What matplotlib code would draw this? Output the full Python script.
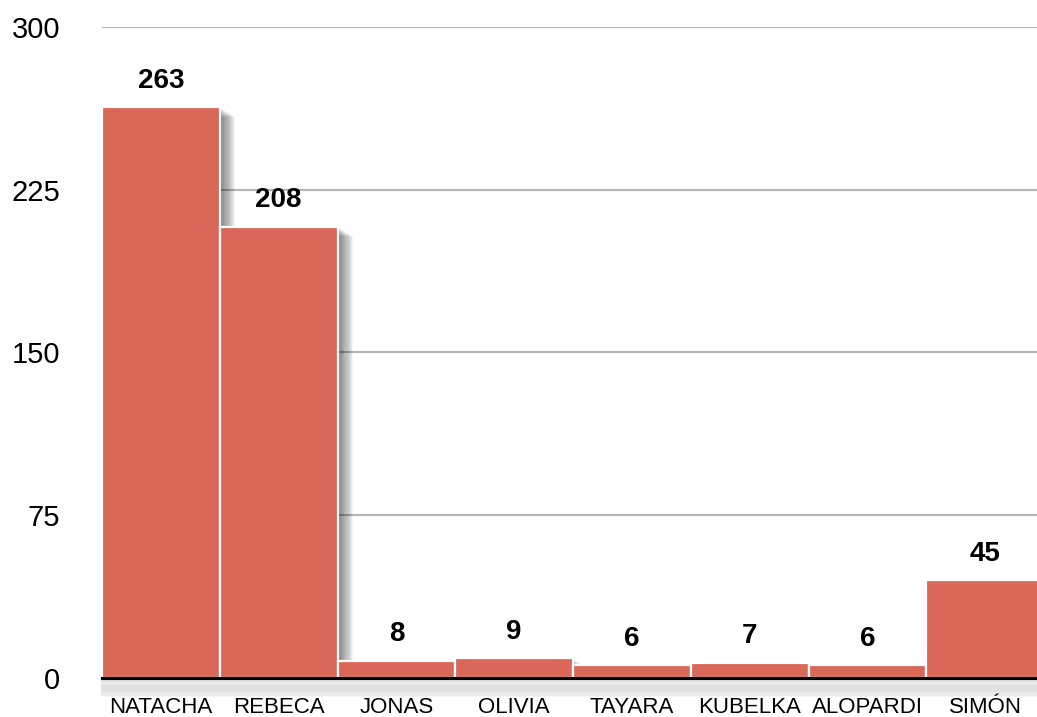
import matplotlib
matplotlib.use('Agg')
import matplotlib.pyplot as plt
import matplotlib.patheffects as pe

names = ['NATACHA', 'REBECA', 'JONAS', 'OLIVIA', 'TAYARA', 'KUBELKA', 'ALOPARDI', 'SIMÓN']
votes = [263, 208, 8, 9, 6, 7, 6, 45]
yticks = [0, 75, 150, 225, 300]

plt.rcParams['font.family'] = ['Liberation Sans', 'DejaVu Sans']

fig = plt.figure(figsize=(10.37, 7.17), dpi=100)
ax = fig.add_axes([0.0984, 0.0544, 0.9084, 0.908])

# soft drop shadow: stacked translucent offsets
shadow = [pe.SimplePatchShadow(offset=(d * 0.8, -d * 0.5), shadow_rgbFace='black', alpha=0.045)
          for d in range(1, 15)] + [pe.Normal()]

x = list(range(len(names)))
bars = ax.bar(x, votes, width=1.0, color='#D96859', edgecolor='white', linewidth=1.6, zorder=3)
for b in bars:
    b.set_path_effects(shadow)

for xi, v in zip(x, votes):
    ax.annotate(str(v), (xi, v), xytext=(0, 19), textcoords='offset points',
                ha='center', va='center', fontsize=20, fontweight='bold', zorder=5)

for t in yticks[1:]:
    ax.axhline(t, color='#b4b4b4', linewidth=1.5, zorder=1)

line_shadow = [pe.SimpleLineShadow(offset=(0, -d * 0.8), shadow_color='black', alpha=0.04)
               for d in range(1, 16)] + [pe.Normal()]
ax.axhline(0, color='black', linewidth=2.2, zorder=4, path_effects=line_shadow, clip_on=False)

ax.set_xlim(-0.5, 7.5)
ax.set_ylim(0, 300)
ax.set_yticks(yticks)
ax.set_yticklabels([str(t) for t in yticks], fontsize=21)
ax.set_xticks(x)
ax.set_xticklabels(names, fontsize=16)
ax.tick_params(axis='y', length=0, pad=30)
ax.tick_params(axis='x', length=0, pad=14)
for s in ax.spines.values():
    s.set_visible(False)

fig.savefig('out.png', dpi=100)
